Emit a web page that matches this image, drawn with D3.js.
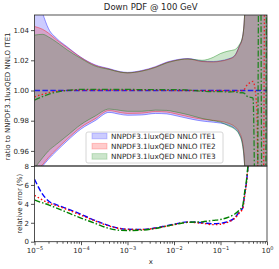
<!DOCTYPE html>
<html lang="en">
<head>
<meta charset="UTF-8" />
<title>Down PDF @ 100 GeV</title>
<style>
  body { margin: 0; background: #fff; }
  svg { font-family: "DejaVu Sans", sans-serif; }
  .axis path, .axis line { stroke: #262626; stroke-width: 0.8; }
  .axis text { font-size: 7px; fill: #262626; font-family: "DejaVu Sans", sans-serif; }
</style>
</head>
<body>
<svg id="chart" width="279" height="269"></svg>
<script src="https://cdn.jsdelivr.net/npm/d3@7"></script>
<script>
// x grid shared by every series
const xs = [1e-5, 1.5e-5, 2e-5, 3e-5, 5e-5, 1e-4, 2e-4, 4e-4, 7e-4, 1e-3, 2e-3, 4e-3, 7e-3, 1e-2,
  2e-2, 4e-2, 7e-2, 0.1, 0.15, 0.2, 0.25, 0.3, 0.33, 0.36, 0.4, 0.5, 0.6, 0.7, 0.8, 0.9, 1.0];

// ratio bands (upper / lower) to ITE1
const ite1Up = [1.068, 1.051, 1.041, 1.0345, 1.029, 1.022, 1.017, 1.0145, 1.0125, 1.012, 1.0132, 1.0158, 1.0188, 1.020,
  1.0212, 1.0195, 1.0192, 1.0197, 1.021, 1.023, 1.029, 1.036, 1.05, 1.08, 1.15, 1.3, 1.3, 1.3, 1.3, 1.3, 1.3];
const ite1Lo = [0.944, 0.950, 0.9545, 0.960, 0.9665, 0.9745, 0.980, 0.9855, 0.9842, 0.9836, 0.9838, 0.9848, 0.9845, 0.9836,
  0.9815, 0.9798, 0.979, 0.9784, 0.977, 0.975, 0.9715, 0.964, 0.95, 0.92, 0.85, 0.7, 0.7, 0.7, 0.7, 0.7, 0.7];
const ite2Up = [1.0424, 1.0405, 1.038, 1.0335, 1.0285, 1.0218, 1.0167, 1.0142, 1.0122, 1.0117, 1.0129, 1.0155, 1.0185, 1.0197,
  1.0209, 1.0192, 1.0189, 1.0194, 1.0207, 1.0227, 1.0287, 1.0357, 1.05, 1.08, 1.15, 1.3, 1.3, 1.3, 1.3, 1.3, 1.3];
const ite2Lo = [0.946, 0.951, 0.9557, 0.9612, 0.9677, 0.9757, 0.9812, 0.9867, 0.9854, 0.9848, 0.985, 0.986, 0.9857, 0.9848,
  0.9827, 0.981, 0.9802, 0.9796, 0.9782, 0.9762, 0.9727, 0.9652, 0.951, 0.92, 0.85, 0.7, 0.7, 0.7, 0.7, 0.7, 0.7];
const ite3Up = [1.0367, 1.0372, 1.0355, 1.032, 1.027, 1.0212, 1.0162, 1.014, 1.0122, 1.0117, 1.0128, 1.0153, 1.0183, 1.0196,
  1.0209, 1.020, 1.022, 1.0245, 1.0262, 1.027, 1.030, 1.036, 1.05, 1.08, 1.15, 1.3, 1.3, 1.3, 1.3, 1.3, 1.3];
const ite3Lo = [0.9485, 0.9555, 0.960, 0.9645, 0.970, 0.9775, 0.983, 0.9877, 0.9868, 0.9862, 0.9862, 0.987, 0.9868, 0.986,
  0.984, 0.9815, 0.980, 0.979, 0.9765, 0.9745, 0.971, 0.963, 0.95, 0.92, 0.85, 0.7, 0.7, 0.7, 0.7, 0.7, 0.7];

// central values
const ite1Cen = xs.map(() => 1.0);
const ite2Cen = [0.9958, 0.9975, 0.9985, 0.9995, 1.0, 1.0003, 1.0003, 1.0002, 1.0002, 1.0002, 1.0002, 1.0002, 1.0001, 1.0,
  1.0, 0.9999, 0.9998, 1.0, 0.9997, 0.9995, 0.9998, 1.0, 1.001, 1.003, 1.0045, 1.006, 0.99, 0.85, 0.85, 1.1, 1.3];
const ite3Cen = [0.9936, 0.996, 0.9975, 0.999, 1.0, 1.0007, 1.0008, 1.0008, 1.0007, 1.0007, 1.0006, 1.0006, 1.0006, 1.0006,
  1.0003, 0.9995, 0.9992, 0.9993, 0.999, 0.9992, 0.9985, 0.9985, 0.998, 0.9965, 0.9958, 0.995, 0.85, 1.2, 0.85, 0.85, 1.2];

// relative error (%)
const ite1Err = [6.6, 5.0, 4.3, 3.9, 3.5, 2.9, 2.25, 1.7, 1.4, 1.32, 1.3, 1.45, 1.7, 1.85,
  2.1, 2.0, 1.9, 1.95, 2.15, 2.5, 3.1, 3.6, 5.0, 6.2, 8.5, 12, 15, 18, 20, 22, 25];
const ite2Err = [4.9, 4.4, 4.1, 3.8, 3.4, 2.8, 2.2, 1.65, 1.38, 1.3, 1.28, 1.43, 1.65, 1.8,
  2.05, 1.95, 1.8, 1.85, 2.1, 2.45, 3.0, 3.5, 4.8, 6.1, 8.4, 12, 15, 18, 20, 22, 25];
const ite3Err = [4.4, 4.1, 3.9, 3.55, 3.1, 2.5, 1.95, 1.4, 1.2, 1.18, 1.22, 1.4, 1.65, 1.8,
  2.05, 2.1, 2.25, 2.35, 2.6, 2.9, 3.3, 3.8, 5.2, 6.4, 8.6, 12, 15, 18, 20, 22, 25];

const series = [
  { name: "NNPDF3.1luxQED NNLO ITE1", color: "#0000ff", up: ite1Up, lo: ite1Lo, cen: ite1Cen, err: ite1Err, dash: "5.5,2.4" },
  { name: "NNPDF3.1luxQED NNLO ITE2", color: "#ff0000", up: ite2Up, lo: ite2Lo, cen: ite2Cen, err: ite2Err, dash: "1.5,2.2" },
  { name: "NNPDF3.1luxQED NNLO ITE3", color: "#008000", up: ite3Up, lo: ite3Lo, cen: ite3Cen, err: ite3Err, dash: "6,2,1.5,2" }
];

const svg = d3.select("#chart");
const pLeft = 34.5, pRight = 267, pTop = 15, pMid = 166, pBottom = 241.7;

const x = d3.scaleLog().domain([1e-5, 1]).range([pLeft, pRight]);
const yTop = d3.scaleLinear().domain([0.95, 1.05]).range([pMid, pTop]);
const yBot = d3.scaleLinear().domain([0, 8]).range([pBottom, pMid]);

// clip paths for the two panels
const defs = svg.append("defs");
defs.append("clipPath").attr("id", "clipTop").append("rect")
  .attr("x", pLeft).attr("y", pTop).attr("width", pRight - pLeft).attr("height", pMid - pTop);
defs.append("clipPath").attr("id", "clipBot").append("rect")
  .attr("x", pLeft).attr("y", pMid).attr("width", pRight - pLeft).attr("height", pBottom - pMid);

// top panel: bands
const gTop = svg.append("g").attr("clip-path", "url(#clipTop)");
series.forEach((s) => {
  const area = d3.area()
    .x((d, i) => x(xs[i]))
    .y0((d, i) => yTop(s.lo[i]))
    .y1((d, i) => yTop(s.up[i]))
    .curve(d3.curveMonotoneX);
  gTop.append("path").datum(xs).attr("d", area)
    .attr("fill", s.color).attr("fill-opacity", 0.2);
  ["up", "lo"].forEach((k) => {
    const edge = d3.line().x((d, i) => x(xs[i])).y((d, i) => yTop(s[k][i])).curve(d3.curveMonotoneX);
    gTop.append("path").datum(xs).attr("d", edge)
      .attr("fill", "none").attr("stroke", s.color).attr("stroke-opacity", 0.4).attr("stroke-width", 1);
  });
});
series.forEach((s) => {
  const line = d3.line().x((d, i) => x(xs[i])).y((d, i) => yTop(s.cen[i])).curve(d3.curveMonotoneX);
  gTop.append("path").datum(xs).attr("d", line)
    .attr("fill", "none").attr("stroke", s.color).attr("stroke-width", 1.3)
    .attr("stroke-dasharray", s.dash).attr("opacity", 0.8);
});

// bottom panel: relative errors
const gBot = svg.append("g").attr("clip-path", "url(#clipBot)");
series.forEach((s) => {
  const line = d3.line().x((d, i) => x(xs[i])).y((d, i) => yBot(s.err[i])).curve(d3.curveMonotoneX);
  gBot.append("path").datum(xs).attr("d", line)
    .attr("fill", "none").attr("stroke", s.color).attr("stroke-width", 1.4)
    .attr("stroke-dasharray", s.dash);
});

// axes
const fmtSup = function (d) {
  const t = d3.select(this);
  t.text("10");
  t.append("tspan").attr("dy", -3.5).attr("font-size", 5)
    .text(Math.round(Math.log10(d)).toString().replace("-", "\u2212"));
};

svg.append("g").attr("class", "axis").attr("transform", `translate(${pLeft},0)`)
  .call(d3.axisLeft(yTop).tickValues([0.96, 0.98, 1.0, 1.02, 1.04]).tickFormat(d3.format(".2f")).tickSize(3.5).tickPadding(2))
  .call((g) => g.select(".domain").remove());

svg.append("g").attr("class", "axis").attr("transform", `translate(${pLeft},0)`)
  .call(d3.axisLeft(yBot).tickValues([0, 2, 4, 6, 8]).tickFormat(d3.format("d")).tickSize(3.5).tickPadding(2))
  .call((g) => g.select(".domain").remove());

const minors = [];
for (let e = -5; e < 0; e++) for (let m = 2; m <= 9; m++) minors.push(m * Math.pow(10, e));
svg.append("g").attr("class", "axis").attr("transform", `translate(0,${pBottom})`)
  .call(d3.axisBottom(x).tickValues(minors).tickFormat("").tickSize(2))
  .call((g) => g.select(".domain").remove());
svg.append("g").attr("class", "axis").attr("transform", `translate(0,${pBottom})`)
  .call(d3.axisBottom(x).tickValues([1e-5, 1e-4, 1e-3, 1e-2, 1e-1, 1]).tickSize(3.5).tickPadding(3))
  .call((g) => g.select(".domain").remove())
  .selectAll(".tick text").each(fmtSup);

// frames
[[pTop, pMid], [pMid, pBottom]].forEach(([a, b]) => {
  svg.append("rect").attr("x", pLeft).attr("y", a).attr("width", pRight - pLeft).attr("height", b - a)
    .attr("fill", "none").attr("stroke", "#262626").attr("stroke-width", 0.8);
});

// legend
const lg = svg.append("g");
lg.append("rect").attr("x", 86).attr("y", 132).attr("width", 137).attr("height", 31).attr("rx", 2)
  .attr("fill", "#fff").attr("fill-opacity", 0.8).attr("stroke", "#cccccc").attr("stroke-width", 0.8);
series.forEach((s, i) => {
  const cy = 136 + i * 10.2;
  lg.append("rect").attr("x", 92).attr("y", cy - 2.8).attr("width", 15).attr("height", 5.6)
    .attr("fill", s.color).attr("fill-opacity", 0.2).attr("stroke", s.color).attr("stroke-opacity", 0.2);
  lg.append("text").attr("x", 111).attr("y", cy).attr("dy", "0.35em")
    .attr("font-size", 7.3).attr("fill", "#262626").text(s.name);
});

// titles
svg.append("text").attr("x", (pLeft + pRight) / 2).attr("y", 10).attr("text-anchor", "middle")
  .attr("font-size", 8.5).attr("fill", "#262626").text("Down PDF @ 100 GeV");
svg.append("text").attr("transform", `translate(10,${(pTop + pMid) / 2 + 6}) rotate(-90)`)
  .attr("text-anchor", "middle").attr("font-size", 7).attr("fill", "#262626")
  .text("ratio to NNPDF3.1luxQED NNLO ITE1");
svg.append("text").attr("transform", `translate(22,${(pMid + pBottom) / 2}) rotate(-90)`)
  .attr("text-anchor", "middle").attr("font-size", 7).attr("fill", "#262626")
  .text("relative error (%)");
svg.append("text").attr("x", (pLeft + pRight) / 2).attr("y", 264).attr("text-anchor", "middle")
  .attr("font-size", 7).attr("fill", "#262626").text("x");
</script>
</body>
</html>
